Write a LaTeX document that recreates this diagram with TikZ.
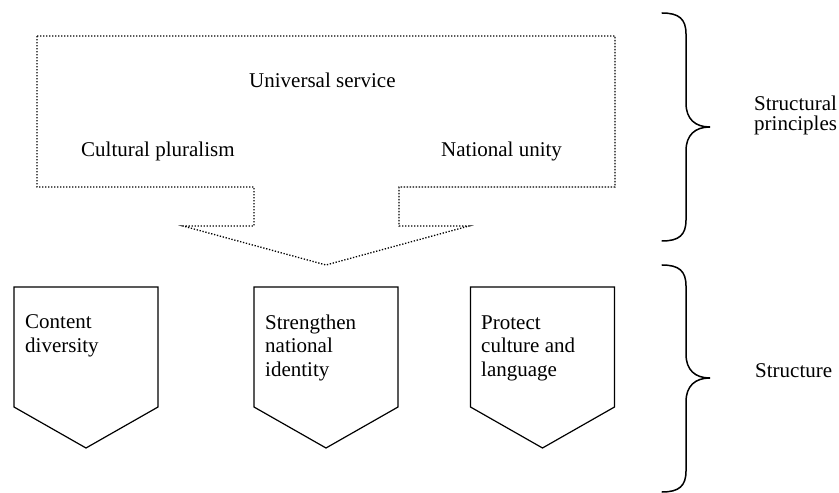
\documentclass[tikz,border=0pt]{standalone}
\usepackage{fontspec}
\setmainfont{Liberation Serif}
\begin{document}
\begin{tikzpicture}[x=1bp,y=-1bp,
  txt/.style={inner sep=0pt,anchor=base west,align=left,
    font=\fontsize{21bp}{23.8bp}\selectfont},
  sidetxt/.style={txt,font=\fontsize{21bp}{20bp}\selectfont},
  dotline/.style={line width=1.3bp,dash pattern=on 1.3bp off 1.7bp},
  pentline/.style={line width=1.2bp,line join=miter},
  braceline/.style={line width=1.5bp,line cap=round}]
\useasboundingbox[fill=white] (0,0) rectangle (839,493);

% dotted block arrow holding the principles
\draw[dotline] (37,36) -- (615,36) -- (615,187) -- (399,187) -- (399,226)
  -- (469,226) -- (326,265) -- (183,226) -- (254,226) -- (254,187)
  -- (37,187) -- cycle;
\node[txt] (univ) at (249,88) {Universal service};
\node[txt] (plur) at (81,157) {Cultural pluralism};
\node[txt] (unity) at (441,157) {National unity};

% three pentagon boxes
\foreach \cx in {86,326,542.5}{
  \draw[pentline] (\cx-72,287) -- (\cx+72,287) -- (\cx+72,407)
    -- (\cx,448) -- (\cx-72,407) -- cycle;
}
% multi-line labels are placed by the baseline of their last line
\node[txt] (content) at (25,352.8) {Content\\diversity};
\node[txt] (strength) at (265,376.6) {Strengthen\\national\\identity};
\node[txt] (protect) at (481,376.6) {Protect\\culture and\\language};

% right braces
\draw[braceline] (662,13) .. controls (679,13) and (686,19) .. (686,34)
  -- (686,103) .. controls (686,119) and (695,127) .. (710,127)
  .. controls (695,127) and (686,135) .. (686,151)
  -- (686,220) .. controls (686,235) and (679,241) .. (662,241);
\draw[braceline] (662,265) .. controls (679,265) and (686,271) .. (686,286)
  -- (686,354) .. controls (686,370) and (695,378) .. (710,378)
  .. controls (695,378) and (686,386) .. (686,402)
  -- (686,471) .. controls (686,486) and (679,492) .. (662,492);

\node[sidetxt] (princ) at (754,131) {Structural\\principles};
\node[txt] (struct) at (755,377) {Structure};
\end{tikzpicture}
\end{document}
